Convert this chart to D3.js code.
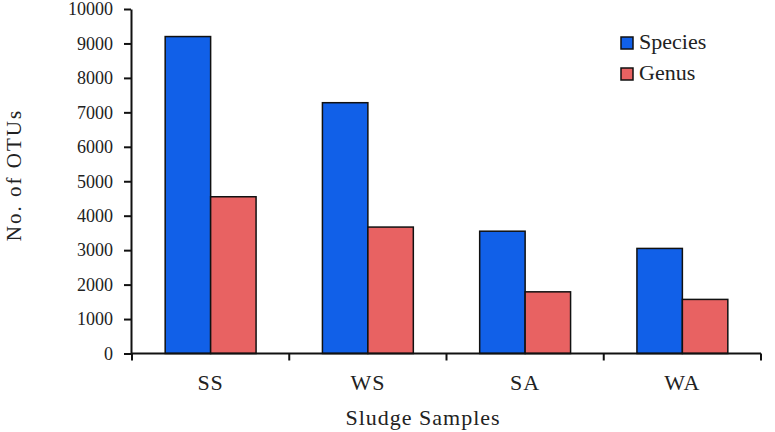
<!DOCTYPE html>
<html>
<head>
<meta charset="utf-8">
<script src="https://cdn.jsdelivr.net/npm/d3@7"></script>
<style>
  body { margin: 0; background: #fff; }
  svg text { font-family: "Liberation Serif", "Times New Roman", Times, serif !important; fill: #222; }
</style>
</head>
<body>
<div id="chart-area"></div>
<script>
let categories = ["SS", "WS", "SA", "WA"];
let series = ["Species", "Genus"];
let species_values = [9200, 7280, 3550, 3050];
let genus_values = [4550, 3670, 1790, 1570];
let y_ticks = [0, 1000, 2000, 3000, 4000, 5000, 6000, 7000, 8000, 9000, 10000];

let colors = { "Species": "#1160e8", "Genus": "#e86262" };

let data = categories.map((c, i) => ({
  name: c,
  Species: species_values[i],
  Genus: genus_values[i]
}));

let width = 775, height = 432;
let plot = { left: 132, right: 761, top: 9, bottom: 353.5 };

let svg = d3.select("#chart-area")
  .append("svg")
    .attr("width", width)
    .attr("height", height)
    .attr("font-family", "Liberation Serif, serif");

let x = d3.scaleBand()
  .domain(categories)
  .range([plot.left, plot.right])
  .paddingInner(0)
  .paddingOuter(0);

let x1 = d3.scaleBand()
  .domain(series)
  .range([0, x.bandwidth()])
  .paddingInner(0)
  .paddingOuter(0.73);

let y = d3.scaleLinear()
  .domain([0, 10000])
  .range([plot.bottom, plot.top]);

// ----------------- Bars -----------------
let groups = svg.selectAll("g.cat")
  .data(data)
  .enter()
  .append("g")
    .attr("class", "cat")
    .attr("transform", d => `translate(${x(d.name)}, 0)`);

groups.selectAll("rect")
  .data(d => series.map(s => ({ key: s, value: d[s] })))
  .enter()
  .append("rect")
    .attr("x", d => x1(d.key))
    .attr("y", d => y(d.value))
    .attr("width", x1.bandwidth())
    .attr("height", d => plot.bottom - y(d.value))
    .attr("fill", d => colors[d.key])
    .attr("stroke", "#111")
    .attr("stroke-width", 1.5);

// ----------------- Axes -----------------
let y_axis = svg.append("g")
  .attr("transform", `translate(${plot.left - 1}, 0)`)
  .call(d3.axisLeft(y).tickValues(y_ticks).tickSize(7).tickSizeOuter(0).tickFormat(d3.format("d")))
  .attr("font-family", null);

y_axis.select(".domain").attr("stroke", "#111").attr("stroke-width", 2);
y_axis.selectAll(".tick line").attr("stroke", "#111").attr("stroke-width", 2);
y_axis.selectAll(".tick text")
  .attr("x", -18)
  .attr("font-size", "18px")
  .attr("fill", "#222");

let x_axis = svg.append("g")
  .attr("transform", `translate(0, ${plot.bottom})`);

x_axis.append("line")
  .attr("x1", plot.left - 1)
  .attr("x2", plot.right)
  .attr("stroke", "#111")
  .attr("stroke-width", 2);

let x_edges = categories.map(c => x(c)).concat([x(categories[categories.length - 1]) + x.bandwidth()]);
x_axis.selectAll("line.tk")
  .data(x_edges)
  .enter()
  .append("line")
    .attr("class", "tk")
    .attr("x1", d => d)
    .attr("x2", d => d)
    .attr("y1", 0)
    .attr("y2", 7)
    .attr("stroke", "#111")
    .attr("stroke-width", 2);

x_axis.selectAll("text.cat")
  .data(categories)
  .enter()
  .append("text")
    .attr("class", "cat")
    .attr("x", d => x(d) + x.bandwidth() / 2)
    .attr("y", 36.5)
    .attr("text-anchor", "middle")
    .attr("font-size", "22px")
    .attr("letter-spacing", "1px")
    .text(d => d);

// ----------------- Labels -----------------
svg.append("text")
  .attr("x", 423)
  .attr("y", 425)
  .attr("text-anchor", "middle")
  .attr("font-size", "22px")
  .attr("letter-spacing", "1px")
  .text("Sludge Samples");

svg.append("text")
  .attr("transform", "translate(21, 175) rotate(-90)")
  .attr("text-anchor", "middle")
  .attr("font-size", "21px")
  .attr("letter-spacing", "2px")
  .text("No. of OTUs");

// ----------------- Legend -----------------
let legend = svg.selectAll("g.legend")
  .data(series)
  .enter()
  .append("g")
    .attr("class", "legend")
    .attr("transform", (d, i) => `translate(621, ${37 + i * 31})`);

legend.append("rect")
  .attr("width", 12)
  .attr("height", 12)
  .attr("fill", d => colors[d])
  .attr("stroke", "#111")
  .attr("stroke-width", 1.5);

legend.append("text")
  .attr("x", 18)
  .attr("y", 12)
  .attr("font-size", "22px")
  .text(d => d);
</script>
</body>
</html>
